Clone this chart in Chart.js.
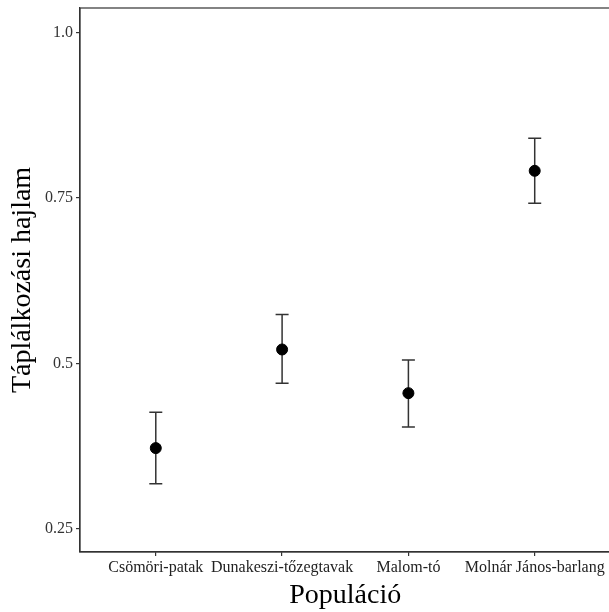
<!DOCTYPE html>
<html>
<head>
<meta charset="utf-8">
<script src="https://cdn.jsdelivr.net/npm/chart.js@4.4.1/dist/chart.umd.min.js"></script>
<style>
  html, body { margin: 0; padding: 0; background: #fff; overflow: hidden; }
  #wrap { width: 617px; height: 612px; }
</style>
</head>
<body>
<div id="wrap"><canvas id="myChart" width="617" height="612"></canvas></div>
<script>
const populations = ['Csömöri-patak', 'Dunakeszi-tőzegtavak', 'Malom-tó', 'Molnár János-barlang'];
const propensity = [0.372, 0.521, 0.455, 0.791];
const upper = [0.426, 0.574, 0.505, 0.840];
const lower = [0.318, 0.470, 0.404, 0.742];
const yTicks = [0.25, 0.5, 0.75, 1.0];
const yTickLabels = ['0.25', '0.5', '0.75', '1.0'];

const serif = "'Liberation Serif', 'Times New Roman', serif";
const axisCol = '#333333';

// error bars + panel frame
const errorBars = {
  id: 'errorBars',
  beforeDatasetsDraw(chart) {
    const c = chart.ctx, xs = chart.scales.x, ys = chart.scales.y;
    c.save();
    c.strokeStyle = axisCol;
    c.lineWidth = 1.5;
    for (let i = 0; i < populations.length; i++) {
      const px = xs.getPixelForValue(i + 1);
      const top = ys.getPixelForValue(upper[i]);
      const bot = ys.getPixelForValue(lower[i]);
      c.beginPath();
      c.moveTo(px, top); c.lineTo(px, bot);
      c.moveTo(px - 6.5, top); c.lineTo(px + 6.5, top);
      c.moveTo(px - 6.5, bot); c.lineTo(px + 6.5, bot);
      c.stroke();
    }
    c.restore();
  },
  afterDraw(chart) {
    const a = chart.chartArea, c = chart.ctx;
    c.save();
    c.strokeStyle = axisCol;
    c.lineWidth = 1.2;
    c.strokeRect(a.left, a.top, a.right - a.left, a.bottom - a.top);
    c.restore();
  }
};

const ctx = document.getElementById('myChart');

new Chart(ctx, {
  type: 'scatter',
  data: {
    datasets: [{
      label: 'Táplálkozási hajlam',
      data: propensity.map((v, i) => ({ x: i + 1, y: v })),
      backgroundColor: '#000',
      borderColor: '#000',
      pointRadius: 5.5,
      pointHoverRadius: 5.5
    }]
  },
  options: {
    responsive: false,
    animation: false,
    layout: { padding: { top: 8, right: 0, left: 0, bottom: 0 } },
    plugins: {
      legend: { display: false },
      tooltip: { enabled: false }
    },
    scales: {
      x: {
        type: 'linear',
        min: 0.4,
        max: 4.6,
        afterBuildTicks(s) { s.ticks = populations.map((p, i) => ({ value: i + 1 })); },
        afterFit(s) { s.height = 60; s.paddingLeft = 0; s.paddingRight = 0; },
        ticks: {
          autoSkip: false,
          maxRotation: 0,
          color: '#222',
          padding: 2,
          font: { family: serif, size: 16 },
          callback: (v) => populations[v - 1]
        },
        grid: { drawOnChartArea: false, drawTicks: true, tickLength: 4, color: axisCol, lineWidth: 1.2 },
        border: { display: true, color: axisCol, width: 1.2 },
        title: {
          display: true,
          text: 'Populáció',
          color: '#000',
          font: { family: serif, size: 28 },
          padding: { top: 0, bottom: 0 }
        }
      },
      y: {
        min: 0.215,
        max: 1.037,
        afterBuildTicks(s) { s.ticks = yTicks.map(v => ({ value: v })); },
        afterFit(s) { s.width = 80; s.paddingTop = 0; s.paddingBottom = 0; },
        ticks: {
          color: '#333',
          padding: 3,
          font: { family: serif, size: 16 },
          callback: (v) => yTickLabels[yTicks.indexOf(v)]
        },
        grid: { drawOnChartArea: false, drawTicks: true, tickLength: 4, color: axisCol, lineWidth: 1.2 },
        border: { display: true, color: axisCol, width: 1.2 },
        title: {
          display: true,
          text: 'Táplálkozási hajlam',
          color: '#000',
          font: { family: serif, size: 28 },
          padding: { top: 6, bottom: 0 }
        }
      }
    }
  },
  plugins: [errorBars]
});
</script>
</body>
</html>
